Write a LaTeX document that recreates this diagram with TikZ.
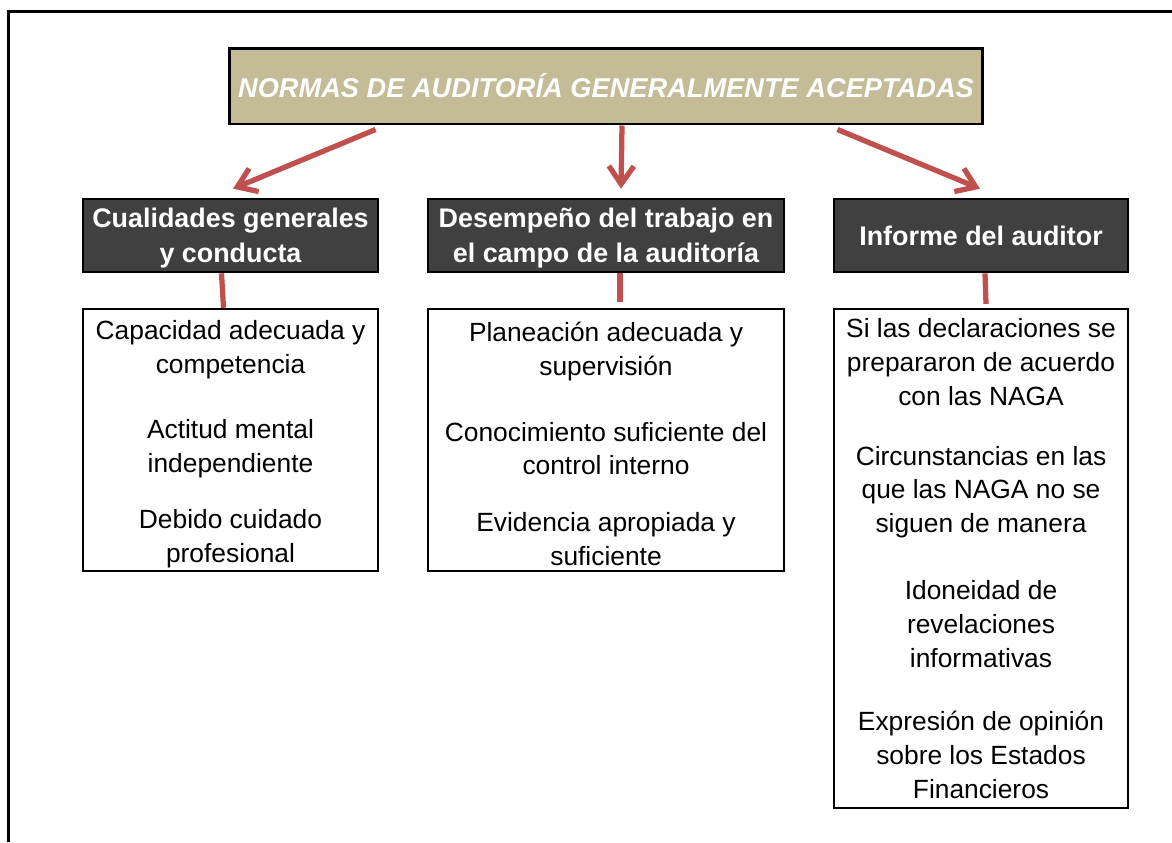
\documentclass[tikz,border=0pt]{standalone}
\usepackage{fontspec}
\setmainfont{Liberation Sans}
\usetikzlibrary{arrows.meta, calc, positioning}
\definecolor{normtan}{HTML}{C4BB97}
\definecolor{headgray}{HTML}{404040}
\definecolor{linkred}{HTML}{C0504D}

\begin{document}
\begin{tikzpicture}[x=0.02cm, y=-0.02cm,
  titlebox/.style={draw=black, line width=1.7pt, fill=normtan, text=white,
    minimum width=15.08cm, minimum height=1.52cm,
    font=\fontsize{15.5}{18}\selectfont\bfseries\itshape},
  headbox/.style={draw=black, line width=1.5pt, fill=headgray, text=white, align=center,
    minimum height=1.46cm, inner sep=0pt,
    font=\fontsize{15.3}{20}\selectfont\bfseries},
  listbox/.style={draw=black, line width=1.4pt, fill=white, align=center, inner sep=0pt,
    font=\fontsize{15}{19.2}\selectfont},
  link/.style={draw=linkred, line width=3pt, -{Straight Barb[length=0.36cm, width=0.5cm]}},
  stub/.style={draw=linkred, line width=3pt}]
\useasboundingbox (0,0) rectangle (1172,842);

% outer frame, open at bottom and right
\draw[line width=1.7pt] (8.5,842) -- (8.5,11.5) -- (1172,11.5);

% title
\node[titlebox] (norms) at (606,86) {NORMAS DE AUDITORÍA GENERALMENTE ACEPTADAS};

% three groups
\node[headbox, minimum width=5.9cm] (hd1) at (230.5,235.5) {\rule{0pt}{14pt}Cualidades generales\\y conducta};
\node[headbox, minimum width=7.12cm] (hd2) at (606,235.5) {\rule{0pt}{14pt}Desempeño del trabajo en\\el campo de la auditoría};
\node[headbox, minimum width=5.88cm] (hd3) at (981,235.5) {\rule{0pt}{12pt}Informe del auditor};

\node[listbox, minimum width=5.9cm, minimum height=5.24cm] (lst1) at (230.5,440)
  {\rule{0pt}{15.5pt}Capacidad adecuada y\\competencia\\[18pt]Actitud mental\\independiente\\[13pt]Debido cuidado\\profesional};
\node[listbox, minimum width=7.12cm, minimum height=5.24cm] (lst2) at (606,440)
  {\rule{0pt}{15.5pt}Planeación adecuada y\\supervisión\\[18pt]Conocimiento suficiente del\\control interno\\[13pt]Evidencia apropiada y\\suficiente};
\node[listbox, minimum width=5.88cm, minimum height=9.98cm] (lst3) at (981,558.5)
  {Si las declaraciones se\\prepararon de acuerdo\\con las NAGA\\[15pt]Circunstancias en las\\que las NAGA no se\\siguen de manera\\[19pt]Idoneidad de\\revelaciones\\informativas\\[17pt]Expresión de opinión\\sobre los Estados\\Financieros};

% arrows from the title
\draw[link] ($(norms.south west)+(148,4)$) -- ($(hd1.north)+(2.5,-9)$);
\draw[link] ($(norms.south)+(16,0)$) -- ($(hd2.north)+(15,-9)$);
\draw[link] ($(norms.south east)+(-147,4)$) -- ($(hd3.north)+(-1,-9)$);

% short links to the lists
\draw[stub] ($(hd1.south)+(-9,0)$) -- ($(lst1.north)+(-7,0)$);
\draw[stub] ($(hd2.south)+(14,0)$) -- ($(lst2.north)+(14,-6)$);
\draw[stub] ($(hd3.south)+(4,0)$) -- ($(lst3.north)+(5,-4)$);
\end{tikzpicture}
\end{document}
